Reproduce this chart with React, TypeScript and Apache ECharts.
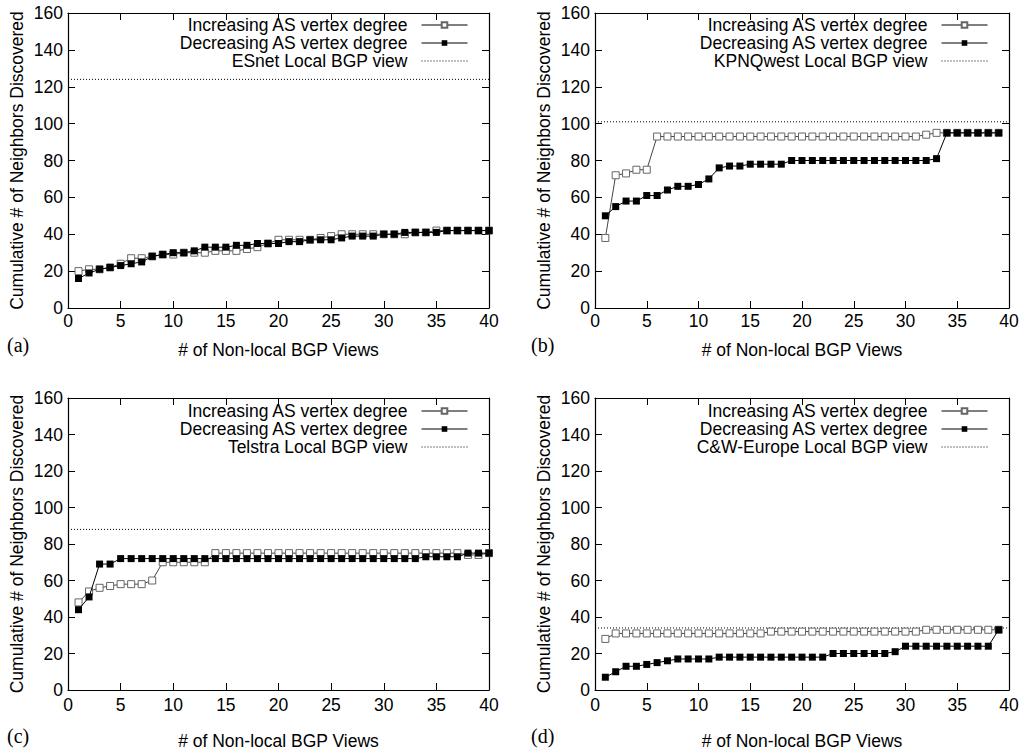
import React, { useEffect, useRef } from "react";
import * as echarts from "echarts";

// ---- data ----
const incA = [20,21,21,22,24,27,27,28,29,29,30,30,30,31,31,31,32,33,35,37,37,37,37,38,39,40,40,40,40,40,40,40,41,41,42,42,42,42,42,42];
const decA = [16,19,21,22,23,24,25,28,29,30,30,31,33,33,33,34,34,35,35,35,36,36,37,37,37,38,39,39,39,40,40,41,41,41,41,42,42,42,42,42];
const incB = [38,72,73,75,75,93,93,93,93,93,93,93,93,93,93,93,93,93,93,93,93,93,93,93,93,93,93,93,93,93,93,94,95,95,95,95,95,95,95];
const decB = [50,55,58,58,61,61,64,66,66,67,70,76,77,77,78,78,78,78,80,80,80,80,80,80,80,80,80,80,80,80,80,80,81,95,95,95,95,95,95];
const incC = [48,54,56,57,58,58,58,60,70,70,70,70,70,75,75,75,75,75,75,75,75,75,75,75,75,75,75,75,75,75,75,75,75,75,75,75,75,74,74,75];
const decC = [44,51,69,69,72,72,72,72,72,72,72,72,72,72,72,72,72,72,72,72,72,72,72,72,72,72,72,72,72,72,72,72,72,73,73,73,73,75,75,75];
const incD = [28,31,31,31,31,31,31,31,31,31,31,31,31,31,31,31,32,32,32,32,32,32,32,32,32,32,32,32,32,32,32,33,33,33,33,33,33,33,33];
const decD = [7,10,13,13,14,15,16,17,17,17,17,18,18,18,18,18,18,18,18,18,18,18,20,20,20,20,20,20,21,24,24,24,24,24,24,24,24,24,33];

const localValues = [124, 101, 88, 34];
const localNames = ["ESnet Local BGP view", "KPNQwest Local BGP view", "Telstra Local BGP view", "C&W-Europe Local BGP view"];
const panelLabels = ["(a)", "(b)", "(c)", "(d)"];
const incName = "Increasing AS vertex degree";
const decName = "Decreasing AS vertex degree";
const xTitle = "# of Non-local BGP Views";
const yTitle = "Cumulative # of Neighbors Discovered";
const xMin = 0, xMax = 40, xStep = 5;
const yMin = 0, yMax = 160, yStep = 20;

const incSets = [incA, incB, incC, incD];
const decSets = [decA, decB, decC, decD];

// ---- layout ----
const grids = [
  { left: 68, top: 13, width: 421, height: 295 },
  { left: 595, top: 13, width: 414, height: 295 },
  { left: 68, top: 398, width: 421, height: 296 },
  { left: 595, top: 398, width: 414, height: 296 },
];
const xNameGaps = [33, 33, 42, 42];
const xLabelMargins = [4, 4, 6, 6];
const legendPos = [
  { right: 562, top: 16 },
  { right: 42, top: 16 },
  { right: 562, top: 402 },
  { right: 42, top: 402 },
];
const labelPos = [
  { x: 7, y: 346 },
  { x: 531, y: 346 },
  { x: 7, y: 737 },
  { x: 531, y: 737 },
];

const FONT = "'Liberation Sans', Arial, Helvetica, sans-serif";
const FS = 17.5;

export default function App() {
  const ref = useRef<HTMLDivElement>(null);
  useEffect(() => {
    if (!ref.current) return;
    const chart = echarts.init(ref.current, undefined, { renderer: "svg" });
    const xAxes: any[] = [];
    const yAxes: any[] = [];
    const series: any[] = [];
    const legends: any[] = [];
    const graphics: any[] = [];
    grids.forEach((g, i) => {
      const tick = { show: true, inside: true, length: 7, lineStyle: { color: "#000", width: 1 } };
      const line = { show: true, onZero: false, lineStyle: { color: "#000", width: 1.2 } };
      xAxes.push({
        type: "value", gridIndex: i, position: "bottom", min: xMin, max: xMax, interval: xStep,
        axisLine: line, axisTick: tick, splitLine: { show: false },
        axisLabel: { color: "#000", fontSize: FS, fontFamily: FONT, margin: xLabelMargins[i] },
        name: xTitle, nameLocation: "middle", nameGap: xNameGaps[i],
        nameTextStyle: { color: "#000", fontSize: FS, fontFamily: FONT },
      });
      xAxes.push({
        type: "value", gridIndex: i, position: "top", min: xMin, max: xMax, interval: xStep,
        axisLine: line, axisTick: tick, splitLine: { show: false }, axisLabel: { show: false },
      });
      yAxes.push({
        type: "value", gridIndex: i, position: "left", min: yMin, max: yMax, interval: yStep,
        axisLine: line, axisTick: tick, splitLine: { show: false },
        axisLabel: { color: "#000", fontSize: FS, fontFamily: FONT, margin: 5 },
        name: yTitle, nameLocation: "middle", nameGap: 42,
        nameTextStyle: { color: "#000", fontSize: FS, fontFamily: FONT },
      });
      yAxes.push({
        type: "value", gridIndex: i, position: "right", min: yMin, max: yMax, interval: yStep,
        axisLine: line, axisTick: tick, splitLine: { show: false }, axisLabel: { show: false },
      });
      const xi = i * 2, yi = i * 2;
      series.push({
        type: "line", name: localNames[i], xAxisIndex: xi, yAxisIndex: yi,
        data: [[xMin, localValues[i]], [xMax, localValues[i]]],
        symbol: "none", silent: true, z: 1,
        itemStyle: { color: "#000", opacity: 0 },
        lineStyle: { color: "#000", width: 1, type: [1, 2] },
      });
      series.push({
        type: "line", name: incName, xAxisIndex: xi, yAxisIndex: yi,
        data: incSets[i].map((v, k) => [k + 1, v]),
        symbol: "rect", symbolSize: 7, silent: true, z: 2,
        itemStyle: { color: "#fff", borderColor: "#666", borderWidth: 1 },
        lineStyle: { color: "#444", width: 1 },
      });
      series.push({
        type: "line", name: decName, xAxisIndex: xi, yAxisIndex: yi,
        data: decSets[i].map((v, k) => [k + 1, v]),
        symbol: "rect", symbolSize: 7, silent: true, z: 3,
        itemStyle: { color: "#000" },
        lineStyle: { color: "#000", width: 1 },
      });
      legends.push({
        ...legendPos[i],
        orient: "vertical", align: "right", padding: 0, itemGap: 0,
        itemWidth: 46, itemHeight: 7, selectedMode: false,
        data: [incName, decName, localNames[i]],
        lineStyle: { width: 1, color: "#000" },
        textStyle: { color: "#000", fontSize: FS, fontFamily: FONT, lineHeight: 18, padding: [0, 9, 0, 0] },
      });
      graphics.push({
        type: "text", left: labelPos[i].x, top: labelPos[i].y - 11,
        style: { text: panelLabels[i], fill: "#000", fontSize: 20, fontFamily: "'Liberation Serif', 'Times New Roman', serif" },
      });
    });
    chart.setOption({
      animation: false,
      backgroundColor: "#fff",
      grid: grids,
      xAxis: xAxes,
      yAxis: yAxes,
      legend: legends,
      series,
      graphic: graphics,
    });
    return () => chart.dispose();
  }, []);
  return (
    <div
      ref={ref}
      style={{ position: "absolute", left: 0, top: 0, width: 1030, height: 751, background: "#fff" }}
    />
  );
}
